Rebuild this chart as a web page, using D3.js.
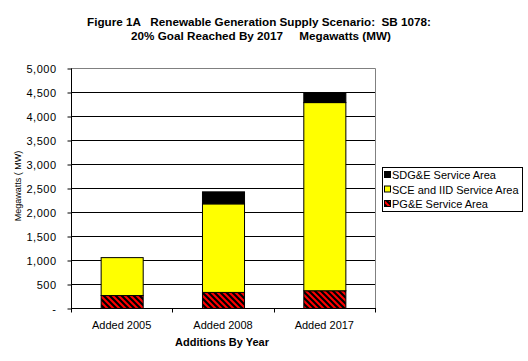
<!DOCTYPE html>
<html>
<head>
<meta charset="utf-8">
<script src="https://cdn.jsdelivr.net/npm/d3@7"></script>
<style>
  body { margin: 0; background: #fff; }
  text { font-family: "Liberation Sans", Arial, sans-serif; }
</style>
</head>
<body>
<div id="chart"></div>
<script>
// Data (MW)
const categories = ["Added 2005", "Added 2008", "Added 2017"];
const pge = [270, 335, 370];
const sce = [790, 1845, 3920];
const sdge = [0, 250, 200];
const yTicks = [0, 500, 1000, 1500, 2000, 2500, 3000, 3500, 4000, 4500, 5000];
const seriesNames = ["SDG&E Service Area", "SCE and IID Service Area", "PG&E Service Area"];

const width = 528, height = 361;
const plot = { left: 71, right: 375, top: 68, bottom: 308 };

const svg = d3.select("#chart")
    .append("svg")
    .attr("width", width)
    .attr("height", height);

// stripe pattern for PG&E
const pat = svg.append("defs").append("pattern")
    .attr("id", "stripes")
    .attr("patternUnits", "userSpaceOnUse")
    .attr("width", 6)
    .attr("height", 6);
pat.append("rect").attr("width", 6).attr("height", 6).attr("fill", "#ff0000");
pat.append("path")
    .attr("d", "M-1,-1 L7,7 M-4,2 L2,8 M2,-4 L8,2")
    .attr("stroke", "#000")
    .attr("stroke-width", 2.2);

const rows = categories.map((c, i) => ({ cat: c, pge: pge[i], sce: sce[i], sdge: sdge[i] }));
const stack = d3.stack().keys(["pge", "sce", "sdge"])(rows);
const fills = { pge: "url(#stripes)", sce: "#ffff00", sdge: "#000000" };

const x = d3.scaleBand()
    .domain(categories)
    .range([plot.left, plot.right])
    .paddingInner(0.585)
    .paddingOuter(0.2925);

const y = d3.scaleLinear()
    .domain([0, 5000])
    .range([plot.bottom, plot.top]);

// gridlines
svg.append("g").selectAll("line")
    .data(yTicks.filter(d => d > 0 && d < 5000))
    .enter().append("line")
    .attr("x1", plot.left).attr("x2", plot.right)
    .attr("y1", d => y(d) + 0.5).attr("y2", d => y(d) + 0.5)
    .attr("stroke", "#000").attr("stroke-width", 1);

// gray top / right border
svg.append("path")
    .attr("d", `M${plot.left},${y(5000) + 0.5} H${plot.right + 0.5} V${plot.bottom}`)
    .attr("fill", "none").attr("stroke", "#808080").attr("stroke-width", 1);

// bars
svg.append("g").selectAll("g")
    .data(stack)
    .enter().append("g")
    .attr("fill", d => fills[d.key])
    .selectAll("rect")
    .data(d => d.filter(s => s[1] - s[0] > 0))
    .enter().append("rect")
    .attr("x", d => x(d.data.cat) + 0.5)
    .attr("y", d => y(d[1]) + 0.5)
    .attr("width", x.bandwidth())
    .attr("height", d => y(d[0]) - y(d[1]))
    .attr("stroke", "#000")
    .attr("stroke-width", 1);

// y axis
const yAxis = svg.append("g")
    .attr("transform", `translate(${plot.left + 0.5},0.5)`)
    .call(d3.axisLeft(y).tickValues(yTicks).tickSize(4).tickPadding(11)
        .tickFormat(d => d === 0 ? "-" : d3.format(",")(d)));
yAxis.select(".domain").attr("d", `M0,${plot.top}V${plot.bottom}`);
yAxis.selectAll("text")
    .attr("font-size", 11)
    .attr("font-family", "Liberation Sans, Arial, sans-serif")
    .attr("letter-spacing", 0.5)
    .attr("fill", "#000");

// x axis
const xAxis = svg.append("g")
    .attr("transform", `translate(0,${plot.bottom + 0.5})`);
xAxis.append("line")
    .attr("x1", plot.left).attr("x2", plot.right + 1)
    .attr("stroke", "#000");
xAxis.selectAll(".tk")
    .data(d3.range(categories.length + 1))
    .enter().append("line")
    .attr("x1", i => Math.round(plot.left + i * (plot.right - plot.left) / categories.length) + 0.5)
    .attr("x2", i => Math.round(plot.left + i * (plot.right - plot.left) / categories.length) + 0.5)
    .attr("y1", 0).attr("y2", 4)
    .attr("stroke", "#000");
xAxis.selectAll(".lbl")
    .data(categories)
    .enter().append("text")
    .attr("x", d => x(d) + x.bandwidth() / 2)
    .attr("y", 20)
    .attr("text-anchor", "middle")
    .attr("font-size", 11)
    .text(d => d);

// axis titles
svg.append("text")
    .attr("x", 222).attr("y", 346)
    .attr("text-anchor", "middle")
    .attr("font-size", 11).attr("font-weight", "bold")
    .text("Additions By Year");

svg.append("text")
    .attr("transform", "translate(21,186) rotate(-90)")
    .attr("text-anchor", "middle")
    .attr("font-size", 9)
    .text("Megawatts ( MW)");

// title
const title = svg.append("text")
    .attr("text-anchor", "middle")
    .attr("font-size", 11.7).attr("font-weight", "bold");
title.append("tspan").attr("x", 259).attr("y", 26)
    .text("Figure 1A   Renewable Generation Supply Scenario:  SB 1078:");
title.append("tspan").attr("x", 261).attr("y", 40)
    .text("20% Goal Reached By 2017     Megawatts (MW)");
title.selectAll("tspan").style("white-space", "pre");

// legend
const legend = svg.append("g");
legend.append("rect")
    .attr("x", 382.5).attr("y", 167.5)
    .attr("width", 140).attr("height", 44)
    .attr("fill", "#fff").attr("stroke", "#000");
const legFills = ["#000000", "#ffff00", "url(#stripes)"];
const item = legend.selectAll(".item")
    .data(seriesNames)
    .enter().append("g")
    .attr("transform", (d, i) => `translate(0,${175 + i * 14.5})`);
item.append("rect")
    .attr("x", 384.5).attr("y", -3.5)
    .attr("width", 6).attr("height", 6)
    .attr("fill", (d, i) => legFills[i])
    .attr("stroke", "#000");
item.append("text")
    .attr("x", 392).attr("y", 4)
    .attr("font-size", 11)
    .text(d => d);
</script>
</body>
</html>
